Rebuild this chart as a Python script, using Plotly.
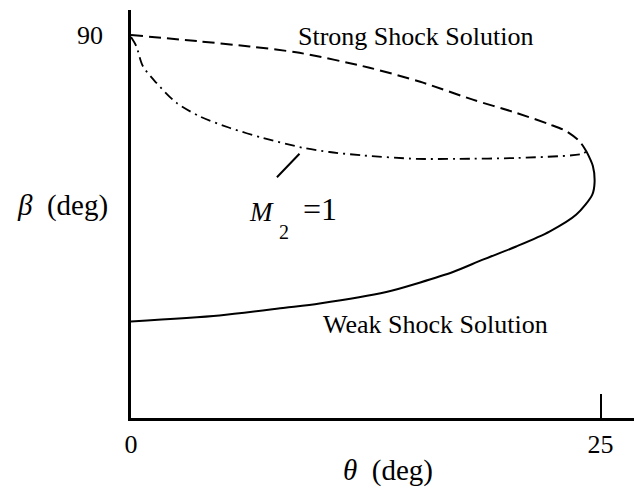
import plotly.graph_objects as go

FONT = "Liberation Serif, Times New Roman, serif"

# Weak shock solution branch (theta, beta) in degrees
weak_theta = [0.0, 4.71, 8.2, 10.04, 13.59, 15.36, 17.14, 18.73, 20.51, 22.28, 23.71, 24.56, 24.68, 24.59, 24.24]
weak_beta = [22.7, 24.1, 25.9, 26.9, 29.6, 31.8, 34.3, 37.2, 40.3, 43.8, 47.8, 52.5, 55.3, 59.2, 62.7]

# Strong shock solution branch
strong_theta = [0.0, 3.65, 6.31, 8.97, 12.70, 15.4, 18.20, 20.51, 22.28, 23.17, 23.88, 24.24]
strong_beta = [90.0, 88.5, 87.3, 85.8, 82.3, 79.0, 74.8, 71.7, 69.0, 67.4, 65.0, 62.7]

# Sonic line M2 = 1
sonic_theta = [0.0, 0.28, 0.63, 1.34, 2.41, 3.65, 5.24, 7.02, 9.15, 10.57, 12.34, 15.19, 17.32, 20.51, 24.06, 24.24]
sonic_beta = [89.5, 87.4, 82.7, 78.8, 74.1, 70.9, 68.2, 65.8, 63.5, 62.5, 61.7, 60.9, 60.9, 61.1, 62.1, 62.7]

x_ticks = [0, 25]
x_tick_labels = ["0", "25"]
y_ticks = [90]
y_tick_labels = ["90"]

fig = go.Figure()
fig.add_trace(go.Scatter(x=weak_theta, y=weak_beta, mode="lines",
                         line=dict(color="black", width=2, shape="spline", smoothing=0.8),
                         hoverinfo="skip"))
fig.add_trace(go.Scatter(x=strong_theta, y=strong_beta, mode="lines",
                         line=dict(color="black", width=2, dash="12px,6px", shape="spline", smoothing=0.8),
                         hoverinfo="skip"))
fig.add_trace(go.Scatter(x=sonic_theta, y=sonic_beta, mode="lines",
                         line=dict(color="black", width=1.8, dash="10px,5px,2px,5px", shape="spline", smoothing=0.8),
                         hoverinfo="skip"))

ann = []
ann.append(dict(x=15.17, y=89.6, xref="x", yref="y", text="Strong Shock Solution",
                showarrow=False, xanchor="center", yanchor="middle",
                font=dict(family=FONT, size=26, color="black")))
ann.append(dict(x=16.21, y=22.0, xref="x", yref="y", text="Weak Shock Solution",
                showarrow=False, xanchor="center", yanchor="middle",
                font=dict(family=FONT, size=26, color="black")))
ann.append(dict(x=6.95, y=48.5, xref="x", yref="y", text="<i>M</i>",
                showarrow=False, xanchor="center", yanchor="middle",
                font=dict(family=FONT, size=27, color="black")))
ann.append(dict(x=8.17, y=43.8, xref="x", yref="y", text="2",
                showarrow=False, xanchor="center", yanchor="middle",
                font=dict(family=FONT, size=20, color="black")))
ann.append(dict(x=10.04, y=49.0, xref="x", yref="y", text="=1",
                showarrow=False, xanchor="center", yanchor="middle",
                font=dict(family=FONT, size=32, color="black")))
# leader line to the sonic line
ann.append(dict(x=8.97, y=62.1, xref="x", yref="y", text="", showarrow=True,
                arrowhead=0, arrowwidth=2, arrowcolor="black", ax=-24, ay=25, standoff=0))
# axis titles
ann.append(dict(x=(62 - 131) / 503, y=49.9, xref="paper", yref="y",
                text="<i>β</i>&nbsp;&nbsp;(deg)", showarrow=False,
                xanchor="center", yanchor="middle",
                font=dict(family=FONT, size=29, color="black")))
ann.append(dict(x=13.66, y=(418 - 470) / 408, xref="x", yref="paper",
                text="<i>θ</i>&nbsp;&nbsp;(deg)", showarrow=False,
                xanchor="center", yanchor="middle",
                font=dict(family=FONT, size=29, color="black")))

fig.update_layout(
    width=634, height=489,
    margin=dict(l=131, r=0, t=10, b=71),
    paper_bgcolor="white", plot_bgcolor="white",
    showlegend=False,
    annotations=ann,
    xaxis=dict(range=[0, 26.78], showgrid=False, zeroline=False, showline=True,
               linecolor="black", linewidth=2.5, ticks="inside", ticklen=24, tickwidth=2,
               tickcolor="black", tickvals=x_ticks, ticktext=x_tick_labels,
               tickfont=dict(family=FONT, size=26, color="black"), ticklabelstandoff=1),
    yaxis=dict(range=[0, 95.87], showgrid=False, zeroline=False, showline=True,
               linecolor="black", linewidth=2.5, ticks="", tickvals=y_ticks, ticktext=y_tick_labels,
               tickfont=dict(family=FONT, size=26, color="black"), ticklabelstandoff=20),
)

fig.write_html("out.html")
